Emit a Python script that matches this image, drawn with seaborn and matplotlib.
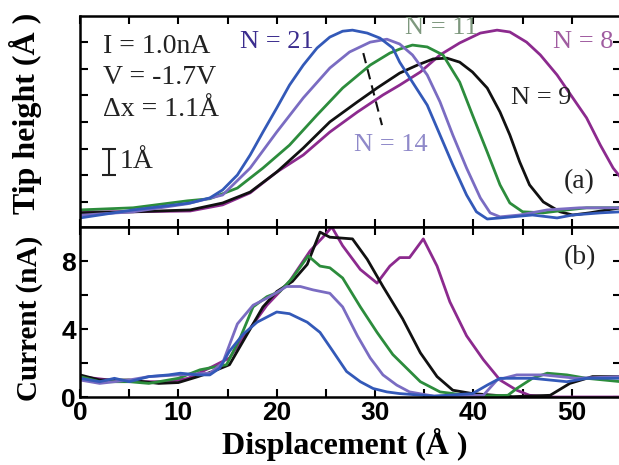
import matplotlib
matplotlib.use("Agg")
import matplotlib.pyplot as plt
import seaborn as sns
import numpy as np
import pandas as pd

# ---------------- data: tip height (Angstrom) ----------------
h21_x = [0, 5.4, 11.2, 13.2, 14.5, 16.0, 17.3, 18.6, 20.0, 21.3, 22.7, 24.1, 25.4, 26.7, 27.7, 29.2, 30.5, 31.8, 32.5, 33.8, 35.3, 36.6, 37.9, 39.3, 40.3, 41.4, 42.7, 46.0, 48.5, 50.1, 52.9, 55.0]
h21_y = [-0.60, -0.30, -0.04, 0.15, 0.45, 1.01, 1.76, 2.62, 3.52, 4.38, 5.13, 5.77, 6.18, 6.40, 6.44, 6.33, 6.14, 5.77, 5.24, 4.49, 3.63, 2.51, 1.39, 0.26, -0.37, -0.64, -0.60, -0.49, -0.60, -0.49, -0.41, -0.37]

h14_x = [0, 5.4, 10.9, 14.5, 17.3, 20.0, 22.7, 25.4, 27.4, 29.5, 31.2, 32.5, 33.8, 35.3, 36.6, 37.9, 39.3, 40.7, 41.7, 42.7, 44.7, 47.5, 50.8, 55.0]
h14_y = [-0.50, -0.37, -0.07, 0.26, 1.27, 2.62, 3.90, 5.02, 5.62, 5.99, 6.10, 5.92, 5.51, 4.76, 3.75, 2.51, 1.27, 0.15, -0.41, -0.56, -0.49, -0.30, -0.22, -0.22]

h11_x = [0, 5.4, 10.9, 13.2, 16.0, 18.6, 21.3, 24.1, 26.7, 29.5, 31.5, 32.5, 33.8, 35.3, 36.9, 38.6, 39.9, 41.4, 42.7, 43.7, 45.0, 47.1, 49.5, 51.5, 55.0]
h11_y = [-0.30, -0.22, 0.04, 0.12, 0.52, 1.27, 2.13, 3.26, 4.27, 5.13, 5.58, 5.73, 5.88, 5.81, 5.51, 4.49, 3.26, 1.87, 0.64, -0.04, -0.37, -0.41, -0.30, -0.22, -0.22]

h9_x = [0, 5.4, 11.2, 14.5, 17.3, 20.0, 22.7, 25.4, 28.2, 30.2, 32.5, 34.3, 35.9, 37.3, 38.6, 39.9, 41.4, 42.7, 43.7, 44.7, 45.7, 47.1, 48.8, 50.1, 51.8, 53.6, 55.0]
h9_y = [-0.41, -0.37, -0.30, -0.04, 0.37, 1.12, 2.02, 3.00, 3.75, 4.27, 4.83, 5.13, 5.36, 5.39, 5.24, 4.87, 4.27, 3.37, 2.51, 1.50, 0.64, 0.00, -0.37, -0.49, -0.41, -0.30, -0.22]

h8_x = [0, 5.4, 11.2, 14.5, 17.3, 20.0, 22.7, 25.4, 28.2, 30.8, 32.5, 34.6, 36.6, 38.6, 40.7, 42.4, 43.7, 45.4, 46.8, 48.5, 50.1, 51.5, 52.9, 54.2, 55.0]
h8_y = [-0.37, -0.37, -0.34, -0.11, 0.34, 1.12, 1.76, 2.62, 3.37, 4.01, 4.38, 4.87, 5.51, 5.96, 6.33, 6.44, 6.37, 5.99, 5.51, 4.76, 3.90, 3.15, 2.13, 1.27, 0.90]

# ---------------- data: current (nA) ----------------
c21_x = [0, 2, 3.5, 5, 7, 9, 10.2, 12, 13.2, 14.2, 15.2, 16.6, 18.0, 20.0, 21.3, 23.1, 24.4, 25.7, 27.1, 28.5, 29.8, 31.2, 32.5, 36, 39.9, 41.4, 42.7, 46.0, 49.5, 51.5, 55.0]
c21_y = [1.1, 0.9, 1.1, 0.9, 1.2, 1.3, 1.4, 1.3, 1.3, 1.7, 2.7, 3.7, 4.4, 5.0, 4.9, 4.4, 3.8, 2.7, 1.5, 0.9, 0.5, 0.3, 0.2, 0.05, 0.2, 0.7, 1.1, 1.1, 0.9, 1.1, 1.1]

c14_x = [0, 2, 5, 7, 10, 13.2, 14.5, 16.0, 17.6, 19.3, 21.0, 22.4, 23.7, 25.4, 26.7, 28.2, 29.5, 30.8, 32.2, 33.5, 36, 41, 42.4, 44.4, 47.1, 50.5, 55.0]
c14_y = [1.0, 0.8, 1.0, 1.2, 1.3, 1.4, 2.0, 4.3, 5.4, 5.9, 6.5, 6.5, 6.3, 6.1, 5.3, 3.6, 2.3, 1.3, 0.7, 0.3, 0.05, 0.1, 1.0, 1.3, 1.3, 1.1, 1.2]

c11_x = [0, 2, 5, 7, 10, 12.2, 14.9, 16.3, 17.6, 19.0, 20.3, 21.6, 23.2, 24.4, 25.4, 26.7, 28.5, 30.2, 31.8, 32.5, 34.6, 36.6, 40, 43.5, 44.4, 46.0, 47.5, 49.5, 51.5, 55.0]
c11_y = [1.2, 0.9, 0.9, 0.8, 1.1, 1.6, 1.9, 3.5, 5.3, 5.9, 6.2, 7.0, 8.3, 7.7, 7.6, 7.0, 5.3, 3.8, 2.5, 2.1, 0.9, 0.3, 0.05, 0.1, 0.5, 1.1, 1.4, 1.3, 1.1, 0.9]

c9_x = [0, 2, 5, 8, 10, 12, 13.5, 15.2, 17.0, 18.6, 20.0, 21.6, 23.1, 24.4, 25.4, 27.7, 29.2, 30.8, 32.8, 34.6, 36.3, 37.9, 39.9, 44, 47.8, 49.8, 52.1, 55.0]
c9_y = [1.3, 1.0, 1.0, 0.8, 0.85, 1.2, 1.5, 1.9, 3.7, 5.3, 6.2, 6.8, 7.8, 9.7, 9.4, 9.3, 8.1, 6.5, 4.6, 2.6, 1.2, 0.4, 0.2, 0.02, 0.1, 0.8, 1.2, 1.2]

c8_x = [0, 3, 6, 9, 11, 13.5, 15.2, 17.0, 19.0, 21.3, 23.4, 24.7, 25.6, 26.7, 28.5, 30.2, 31.5, 32.5, 33.5, 34.9, 36.3, 37.6, 39.3, 41.0, 42.7, 44.4, 45.7, 48, 55.0]
c8_y = [1.2, 1.0, 0.9, 0.9, 1.1, 1.8, 2.3, 3.8, 5.4, 6.8, 8.6, 9.4, 10.0, 8.9, 7.5, 6.7, 7.7, 8.2, 8.2, 9.3, 7.7, 5.6, 3.6, 2.2, 1.0, 0.4, 0.1, 0.0, 0.0]

colors = {"N = 21": "#3359B8", "N = 14": "#7A6CC2", "N = 11": "#2C8C3C",
          "N = 9": "#111111", "N = 8": "#8C2A8E"}

height_df = pd.concat([
    pd.DataFrame({"x": hx, "y": hy, "N": n}) for n, hx, hy in [
        ("N = 8", h8_x, h8_y), ("N = 9", h9_x, h9_y), ("N = 11", h11_x, h11_y),
        ("N = 14", h14_x, h14_y), ("N = 21", h21_x, h21_y)]
])
current_df = pd.concat([
    pd.DataFrame({"x": cx, "y": cy, "N": n}) for n, cx, cy in [
        ("N = 8", c8_x, c8_y), ("N = 9", c9_x, c9_y), ("N = 11", c11_x, c11_y),
        ("N = 14", c14_x, c14_y), ("N = 21", c21_x, c21_y)]
])

sns.set_style("ticks")
plt.rcParams["font.family"] = ["Liberation Serif", "DejaVu Serif"]
plt.rcParams["text.color"] = "black"
plt.rcParams["axes.labelcolor"] = "black"
plt.rcParams["axes.edgecolor"] = "black"
plt.rcParams["xtick.color"] = "black"
plt.rcParams["ytick.color"] = "black"

fig = plt.figure(figsize=(6.19, 4.65), dpi=100)
W, H = 619, 465
x0, x1 = 80, 621
axA = fig.add_axes([x0 / W, 1 - 227 / H, (x1 - x0) / W, (227 - 16) / H])
axB = fig.add_axes([x0 / W, 1 - 397 / H, (x1 - x0) / W, (397 - 227) / H])

for ax, df in [(axA, height_df), (axB, current_df)]:
    sns.lineplot(data=df, x="x", y="y", hue="N", palette=colors, sort=False,
                 estimator=None, linewidth=2.0, legend=False, ax=ax)
    ax.set_xlim(0, 55)
    for s in ax.spines.values():
        s.set_linewidth(1.8)
        s.set_visible(True)
    ax.tick_params(direction="in", which="both", top=True, right=True,
                   width=1.5, length=6)
    ax.set_xlabel("")
    ax.set_ylabel("")

# top panel
axA.set_ylim(-0.94, 6.97)
axA.set_xticks(np.arange(0, 56, 5))
axA.set_yticks(np.arange(0, 7, 1))
axA.tick_params(labelbottom=False, labelleft=False)
axA.plot([28.8, 30.7], [5.58, 2.88], ls=(0, (5, 3)), color="#111111", lw=1.5)

tfs = 20
axA.text(2.3, 5.84, "I = 1.0nA", fontsize=tfs, va="center", ha="left", color="#222222")
axA.text(2.3, 4.68, "V = -1.7V", fontsize=tfs, va="center", ha="left", color="#222222")
axA.text(2.3, 3.45, "\u0394x = 1.1\u00c5", fontsize=tfs, va="center", ha="left", color="#222222")
axA.errorbar([2.95], [1.5], yerr=[[0.5], [0.5]], color="#222222", capsize=5, lw=1.5, capthick=1.5)
axA.text(4.0, 1.5, "1\u00c5", fontsize=tfs, va="center", ha="left", color="#222222")
axA.text(20.0, 6.0, "N = 21", fontsize=19, va="center", ha="center", color="#3B2D8E")
axA.text(36.7, 6.52, "N = 11", fontsize=19, va="center", ha="center", color="#7E987E")
axA.text(51.2, 6.0, "N = 8", fontsize=19, va="center", ha="center", color="#A05CA0")
axA.text(46.9, 3.9, "N = 9", fontsize=19, va="center", ha="center", color="#222222")
axA.text(31.6, 2.13, "N = 14", fontsize=19, va="center", ha="center", color="#8F89C9")
axA.text(50.7, 0.75, "(a)", fontsize=tfs, va="center", ha="center", color="#222222")

# bottom panel
axB.set_ylim(0, 10)
axB.set_xticks(np.arange(0, 51, 10))
axB.set_xticks(np.arange(5, 56, 10), minor=True)
axB.set_yticks([0, 4, 8])
axB.set_yticks([2, 6], minor=True)
axB.tick_params(axis="both", which="major", labelsize=19, pad=3)
for lab in axB.get_xticklabels() + axB.get_yticklabels():
    lab.set_fontfamily("Liberation Sans")
    lab.set_fontweight("bold")
axB.text(50.8, 8.2, "(b)", fontsize=tfs, va="center", ha="center", color="#222222")

axA.set_ylabel("Tip height (\u00c5 )", fontsize=23, fontweight="bold")
axA.yaxis.set_label_coords(-0.070, 0.54)
axB.set_ylabel("Current (nA)", fontsize=21, fontweight="bold")
axB.yaxis.set_label_coords(-0.068, 0.465)
axB.set_xlabel("Displacement (\u00c5 )", fontsize=23, fontweight="bold")
axB.xaxis.set_label_coords(0.49, -0.182)

fig.savefig("out.png", dpi=100)
